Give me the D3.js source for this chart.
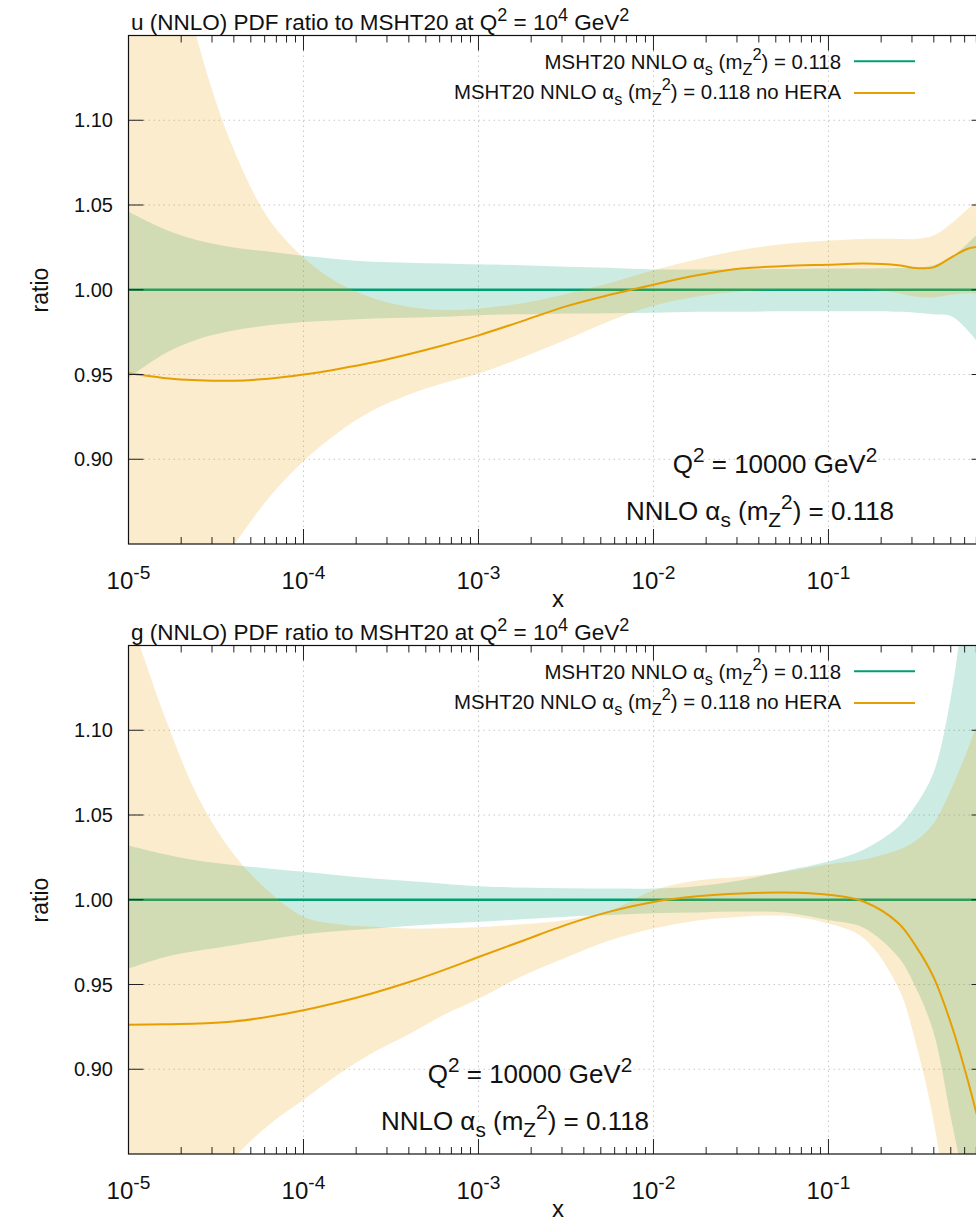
<!DOCTYPE html>
<html lang="en">
<head>
<meta charset="UTF-8" />
<title>MSHT20 NNLO PDF ratio</title>
<script src="https://d3js.org/d3.v7.min.js"></script>
<style>
  body { margin: 0; background: #fff; }
  svg { display: block; font-family: "Liberation Sans", Arial, Helvetica, sans-serif; }
</style>
</head>
<body>
<script>
// sample points, log10(x)
const logX = [-5, -4.8, -4.6, -4.4, -4.2, -4.0, -3.8, -3.6, -3.4, -3.2, -3.0, -2.75, -2.5, -2.25,
  -2.0, -1.75, -1.5, -1.25, -1.0, -0.8, -0.6, -0.5, -0.4, -0.3, -0.2, -0.1, 0];

// u quark: MSHT20 band (central = 1)
const uRefUp = [1.046, 1.036, 1.029, 1.025, 1.0225, 1.020, 1.018, 1.0165, 1.016, 1.0155, 1.015, 1.0145, 1.0135, 1.013,
  1.012, 1.012, 1.012, 1.0122, 1.0125, 1.0125, 1.0128, 1.013, 1.0145, 1.019, 1.0278, 1.038, 1.05];
const uRefLo = [0.948, 0.962, 0.971, 0.976, 0.979, 0.981, 0.982, 0.983, 0.9835, 0.984, 0.985, 0.9855, 0.986, 0.9862,
  0.9865, 0.987, 0.987, 0.9873, 0.9873, 0.9873, 0.987, 0.9865, 0.9855, 0.9845, 0.9755, 0.962, 0.945];
// u quark: no HERA fit
const uNoHeraMid = [0.9507, 0.948, 0.9466, 0.9463, 0.9475, 0.950, 0.9533, 0.9572, 0.962, 0.9673, 0.9731, 0.9815, 0.9902, 0.997,
  1.003, 1.0085, 1.0125, 1.014, 1.0148, 1.0155, 1.0145, 1.0128, 1.0132, 1.019, 1.0243, 1.026, 1.029];
const uNoHeraUp = [1.40, 1.24, 1.145, 1.083, 1.042, 1.019, 1.004, 0.995, 0.990, 0.988, 0.989, 0.992, 0.9975, 1.004,
  1.0115, 1.018, 1.0235, 1.027, 1.029, 1.030, 1.030, 1.030, 1.032, 1.039, 1.048, 1.056, 1.065];
const uNoHeraLo = [0.76, 0.79, 0.82, 0.849, 0.877, 0.899, 0.916, 0.929, 0.938, 0.945, 0.9505, 0.960, 0.9705, 0.9815,
  0.9905, 0.996, 0.999, 1.000, 1.000, 1.0005, 0.998, 0.9958, 0.9955, 0.997, 0.998, 0.997, 0.995];

// gluon: MSHT20 band
const gRefUp = [1.032, 1.027, 1.023, 1.0205, 1.0185, 1.0165, 1.0145, 1.0125, 1.011, 1.0095, 1.008, 1.0072, 1.0068, 1.0066,
  1.0066, 1.008, 1.0115, 1.017, 1.0225, 1.0295, 1.043, 1.056, 1.075, 1.12, 1.20, 1.30, 1.40];
const gRefLo = [0.9594, 0.966, 0.970, 0.9732, 0.9765, 0.9796, 0.9815, 0.983, 0.9845, 0.9858, 0.987, 0.9885, 0.990, 0.991,
  0.992, 0.9925, 0.993, 0.9925, 0.988, 0.9835, 0.9661, 0.948, 0.922, 0.8712, 0.82, 0.76, 0.70];
// gluon: no HERA fit
const gNoHeraMid = [0.9262, 0.9265, 0.927, 0.9282, 0.931, 0.9348, 0.9395, 0.945, 0.9513, 0.9585, 0.9662, 0.9757, 0.9852, 0.993,
  0.9987, 1.002, 1.0037, 1.0043, 1.003, 0.999, 0.9862, 0.9725, 0.9545, 0.927, 0.892, 0.85, 0.79];
const gNoHeraUp = [1.17, 1.11, 1.06, 1.027, 1.005, 0.990, 0.9855, 0.984, 0.983, 0.9832, 0.9838, 0.9855, 0.988, 0.9935,
  1.0056, 1.0113, 1.0135, 1.0165, 1.021, 1.0238, 1.0295, 1.035, 1.045, 1.065, 1.09, 1.12, 1.16];
const gNoHeraLo = [0.72, 0.77, 0.815, 0.847, 0.867, 0.882, 0.897, 0.910, 0.9205, 0.932, 0.9416, 0.955, 0.966, 0.976,
  0.983, 0.9878, 0.990, 0.9905, 0.986, 0.9775, 0.948, 0.915, 0.870, 0.80, 0.72, 0.62, 0.50];

const yTicks = [0.90, 0.95, 1.00, 1.05, 1.10];
const xDecades = [-5, -4, -3, -2, -1];

const W = 976, H = 1222;
const green = "#009e73", orange = "#e69f00";

const svg = d3.select("body").append("svg").attr("width", W).attr("height", H);

const x = d3.scaleLog().domain([1e-5, 0.8]).range([128.5, 986.5]);

// writes a string made of plain / sub / sup pieces into a text element
function richText(sel, parts, fs) {
  let cur = 0;
  parts.forEach(p => {
    const target = p.sub ? 0.28 * fs : p.sup ? -0.42 * fs : 0;
    sel.append("tspan")
      .attr("dy", target - cur)
      .attr("font-size", p.sub || p.sup ? fs * 0.8 : fs)
      .text(p.t);
    cur = target;
  });
}

const alphaParts = [
  { t: "MSHT20 NNLO α" }, { t: "s", sub: true }, { t: " (m" }, { t: "Z", sub: true }, { t: "2", sup: true },
  { t: ") = 0.118" }
];

const panels = [
  { name: "u", top: 35.5, up: uRefUp, lo: uRefLo, mid: uNoHeraMid, nUp: uNoHeraUp, nLo: uNoHeraLo, labX: 775 },
  { name: "g", top: 645.5, up: gRefUp, lo: gRefLo, mid: gNoHeraMid, nUp: gNoHeraUp, nLo: gNoHeraLo, labX: 530 }
];

panels.forEach((p, pi) => {
  const h = 508.5;
  const bottom = p.top + h;
  const y = d3.scaleLinear().domain([0.85, 1.15]).range([bottom, p.top]);
  const g = svg.append("g");
  const L = x.range()[0], R = x.range()[1];

  const clipId = "clip" + pi;
  g.append("clipPath").attr("id", clipId)
    .append("rect").attr("x", L).attr("y", p.top).attr("width", R - L).attr("height", h);

  // grid
  const grid = g.append("g").attr("stroke", "#c8c8c8").attr("stroke-width", 1).attr("stroke-dasharray", "1.5,3.5");
  xDecades.slice(1).forEach(e => {
    const px = x(Math.pow(10, e));
    grid.append("line").attr("x1", px).attr("x2", px).attr("y1", p.top).attr("y2", bottom);
  });
  yTicks.forEach(v => {
    grid.append("line").attr("x1", L).attr("x2", R).attr("y1", y(v)).attr("y2", y(v));
  });

  const pts = logX.map((lx, i) => ({
    x: Math.pow(10, lx), up: p.up[i], lo: p.lo[i], mid: p.mid[i], nUp: p.nUp[i], nLo: p.nLo[i]
  }));

  const plot = g.append("g").attr("clip-path", `url(#${clipId})`);
  const curve = d3.curveCatmullRom.alpha(0.5);

  plot.append("path").datum(pts)
    .attr("fill", green).attr("fill-opacity", 0.2)
    .attr("d", d3.area().x(d => x(d.x)).y0(d => y(d.lo)).y1(d => y(d.up)).curve(curve));
  plot.append("line")
    .attr("x1", L).attr("x2", R).attr("y1", y(1)).attr("y2", y(1))
    .attr("stroke", green).attr("stroke-width", 2.5);
  plot.append("path").datum(pts)
    .attr("fill", orange).attr("fill-opacity", 0.2)
    .attr("d", d3.area().x(d => x(d.x)).y0(d => y(d.nLo)).y1(d => y(d.nUp)).curve(curve));
  plot.append("path").datum(pts)
    .attr("fill", "none").attr("stroke", orange).attr("stroke-width", 2)
    .attr("d", d3.line().x(d => x(d.x)).y(d => y(d.mid)).curve(curve));

  // ticks
  const ticks = g.append("g").attr("stroke", "#222").attr("stroke-width", 1);
  yTicks.forEach(v => {
    ticks.append("line").attr("x1", L).attr("x2", L + 15).attr("y1", y(v)).attr("y2", y(v));
    ticks.append("line").attr("x1", R).attr("x2", R - 15).attr("y1", y(v)).attr("y2", y(v));
  });
  xDecades.forEach(e => {
    for (let m = 1; m <= 9; m++) {
      const v = m * Math.pow(10, e);
      if (v > 0.8) break;
      const len = m === 1 ? 15 : 7;
      const px = x(v);
      ticks.append("line").attr("x1", px).attr("x2", px).attr("y1", bottom).attr("y2", bottom - len);
      ticks.append("line").attr("x1", px).attr("x2", px).attr("y1", p.top).attr("y2", p.top + len);
    }
  });

  // border
  g.append("rect").attr("x", L).attr("y", p.top).attr("width", R - L).attr("height", h)
    .attr("fill", "none").attr("stroke", "#111").attr("stroke-width", 1.2);

  // y tick labels
  yTicks.forEach(v => {
    g.append("text").attr("x", 113).attr("y", y(v) + 7).attr("text-anchor", "end")
      .attr("font-size", 20).attr("fill", "#111").text(d3.format(".2f")(v));
  });
  // x tick labels
  xDecades.forEach(e => {
    const t = g.append("text").attr("x", x(Math.pow(10, e))).attr("y", bottom + 45)
      .attr("text-anchor", "middle").attr("fill", "#111");
    richText(t, [{ t: "10" }, { t: String(e), sup: true }], 24);
  });
  g.append("text").attr("x", 558).attr("y", bottom + 63).attr("text-anchor", "middle")
    .attr("font-size", 24).attr("fill", "#111").text("x");
  g.append("text").attr("transform", `translate(48,${p.top + 254.5}) rotate(-90)`)
    .attr("text-anchor", "middle").attr("font-size", 23).attr("fill", "#111").text("ratio");

  // title
  const title = g.append("text").attr("x", 131).attr("y", p.top - 5.5).attr("fill", "#111");
  richText(title, [
    { t: p.name + " (NNLO) PDF ratio to MSHT20 at Q" }, { t: "2", sup: true }, { t: " = 10" }, { t: "4", sup: true },
    { t: " GeV" }, { t: "2", sup: true }
  ], 22.5);

  // legend
  const legend = [
    { parts: alphaParts, color: green, dy: 33.5, ly: 25.7 },
    { parts: alphaParts.concat([{ t: " no HERA" }]), color: orange, dy: 63.5, ly: 57.5 }
  ];
  legend.forEach(l => {
    const t = g.append("text").attr("x", 841).attr("y", p.top + l.dy).attr("text-anchor", "end").attr("fill", "#111");
    richText(t, l.parts, 20.4);
    g.append("line").attr("x1", 854).attr("x2", 915).attr("y1", p.top + l.ly).attr("y2", p.top + l.ly)
      .attr("stroke", l.color).attr("stroke-width", 2);
  });

  // annotations
  const q = g.append("text").attr("x", p.labX).attr("y", p.top + 437.5).attr("text-anchor", "middle").attr("fill", "#111");
  richText(q, [{ t: "Q" }, { t: "2", sup: true }, { t: " = 10000 GeV" }, { t: "2", sup: true }], 26);
  const a = g.append("text").attr("x", p.labX - 15).attr("y", p.top + 484.5).attr("text-anchor", "middle").attr("fill", "#111");
  richText(a, [{ t: "NNLO α" }, { t: "s", sub: true }, { t: " (m" }, { t: "Z", sub: true }, { t: "2", sup: true },
    { t: ") = 0.118" }], 26);
});
</script>
</body>
</html>
